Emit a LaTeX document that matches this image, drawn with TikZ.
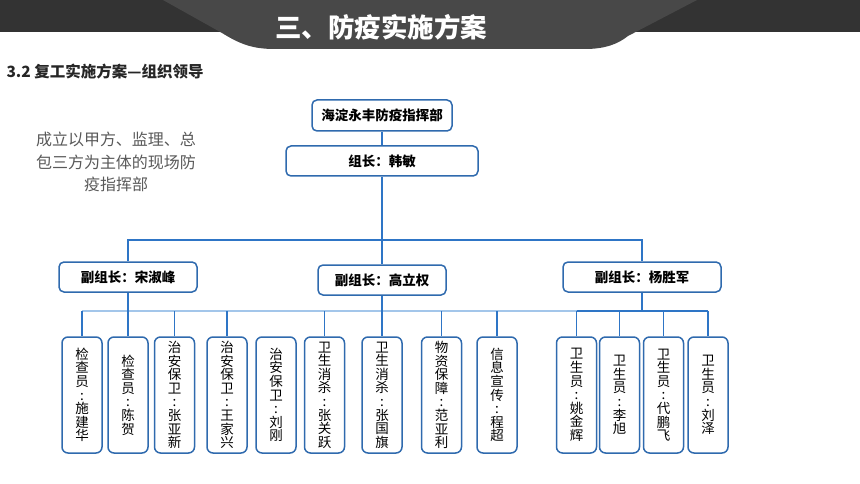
\documentclass[tikz,border=0pt]{standalone}
\usepackage{fontspec}
\setmainfont{Noto Sans CJK SC}
\usetikzlibrary{calc}
\definecolor{hdrdark}{HTML}{333333}
\definecolor{hdrtab}{HTML}{484848}
\definecolor{lineblue}{HTML}{2E75C6}
\definecolor{boxblue}{HTML}{2F6AAE}
\definecolor{lightblue}{HTML}{A3C6EA}
\definecolor{graytext}{HTML}{595959}
\definecolor{subtext}{HTML}{262626}
\tikzset{
  hbox/.style={draw=boxblue, line width=1.5pt, rounded corners=5pt, fill=white,
    inner sep=0pt, font=\fontsize{13.5}{14}\selectfont\bfseries},
  vbox/.style={draw=boxblue, line width=1.5pt, rounded corners=6pt, fill=white,
    inner sep=0pt, minimum width=40pt, minimum height=116pt, align=center,
    font=\fontsize{13.5}{13.6}\selectfont},
  conn/.style={draw=lineblue, line width=1.5pt},
  lightconn/.style={draw=lightblue, line width=2pt}
}
\begin{document}
\begin{tikzpicture}[x=1pt,y=-1pt]
\useasboundingbox (0,0) rectangle (860,484);
% header
\fill[hdrdark] (0,0) rectangle (860,32);
\fill[hdrtab] (163,0) -- (222,33) .. controls (240,44) and (252,49) .. (275,49)
  -- (585,49) .. controls (605,49) and (618,44) .. (628,36) -- (697,0) -- cycle;
\node[text=white, font=\fontsize{26.5}{26}\selectfont\bfseries] (title) at (381,27) {三、防疫实施方案};
\node[anchor=west, text=subtext, font=\fontsize{15.5}{16}\selectfont\bfseries] (sub) at (3,72) {3.2 复工实施方案—组织领导};
\node[align=center, text=graytext, font=\fontsize{16}{22.5}\selectfont] (para) at (116,162)
  {成立以甲方、监理、总\\包三方为主体的现场防\\疫指挥部};
% upper boxes
\node[hbox, minimum width=140pt, minimum height=31pt] (top) at (382,115.5) {海淀永丰防疫指挥部};
\node[hbox, minimum width=192pt, minimum height=30pt] (zz) at (382,161) {组长：韩敏};
\node[hbox, minimum width=138pt, minimum height=30pt] (lft) at (128,277) {副组长：宋淑峰};
\node[hbox, minimum width=128pt, minimum height=30pt] (mid) at (382,280) {副组长：高立权};
\node[hbox, minimum width=158pt, minimum height=30pt] (rgt) at (642,277) {副组长：杨胜军};
% bottom boxes
\node[vbox] (b1) at (82,395) {检\\查\\员\\:\\施\\建\\华};
\node[vbox] (b2) at (128,395) {检\\查\\员\\:\\陈\\贺};
\node[vbox] (b3) at (174.5,395) {治\\安\\保\\卫\\:\\张\\亚\\新};
\node[vbox] (b4) at (227,395) {治\\安\\保\\卫\\:\\王\\家\\兴};
\node[vbox] (b5) at (276,395) {治\\安\\保\\卫\\:\\刘\\刚};
\node[vbox] (b6) at (324.5,395) {卫\\生\\消\\杀\\:\\张\\关\\跃};
\node[vbox] (b7) at (382,395) {卫\\生\\消\\杀\\:\\张\\国\\旗};
\node[vbox] (b8) at (441.5,395) {物\\资\\保\\障\\:\\范\\亚\\利};
\node[vbox] (b9) at (497,395) {信\\息\\宣\\传\\:\\程\\超};
\node[vbox] (b10) at (576.5,395) {卫\\生\\员\\:\\姚\\金\\辉};
\node[vbox] (b11) at (619.5,395) {卫\\生\\员\\:\\李\\旭};
\node[vbox] (b12) at (663.5,395) {卫\\生\\员\\:\\代\\鹏\\飞};
\node[vbox] (b13) at (708,395) {卫\\生\\员\\:\\刘\\泽};
% connectors
\coordinate (busA) at (0,240);
\coordinate (busB) at (0,311);
\draw[conn] (top.south) -- (zz.north);
\draw[conn] (zz.south) -- (mid.north);
\draw[conn] (lft.north) -- (lft.north |- busA) -- (rgt.north |- busA) -- (rgt.north);
\draw[lightconn] (b1.north |- busB) -- (b10.north |- busB);
\draw[conn] (lft.south) -- (b2.north);
\draw[conn] (mid.south) -- (b7.north);
\draw[conn] (rgt.south) -- (rgt.south |- busB);
\draw[conn] (b10.north |- busB) -- (b13.north |- busB);
\foreach \b in {b1,b3,b4,b6,b8,b9,b10,b11,b12,b13}
  \draw[conn] (\b.north |- busB) -- (\b.north);
\end{tikzpicture}
\end{document}
